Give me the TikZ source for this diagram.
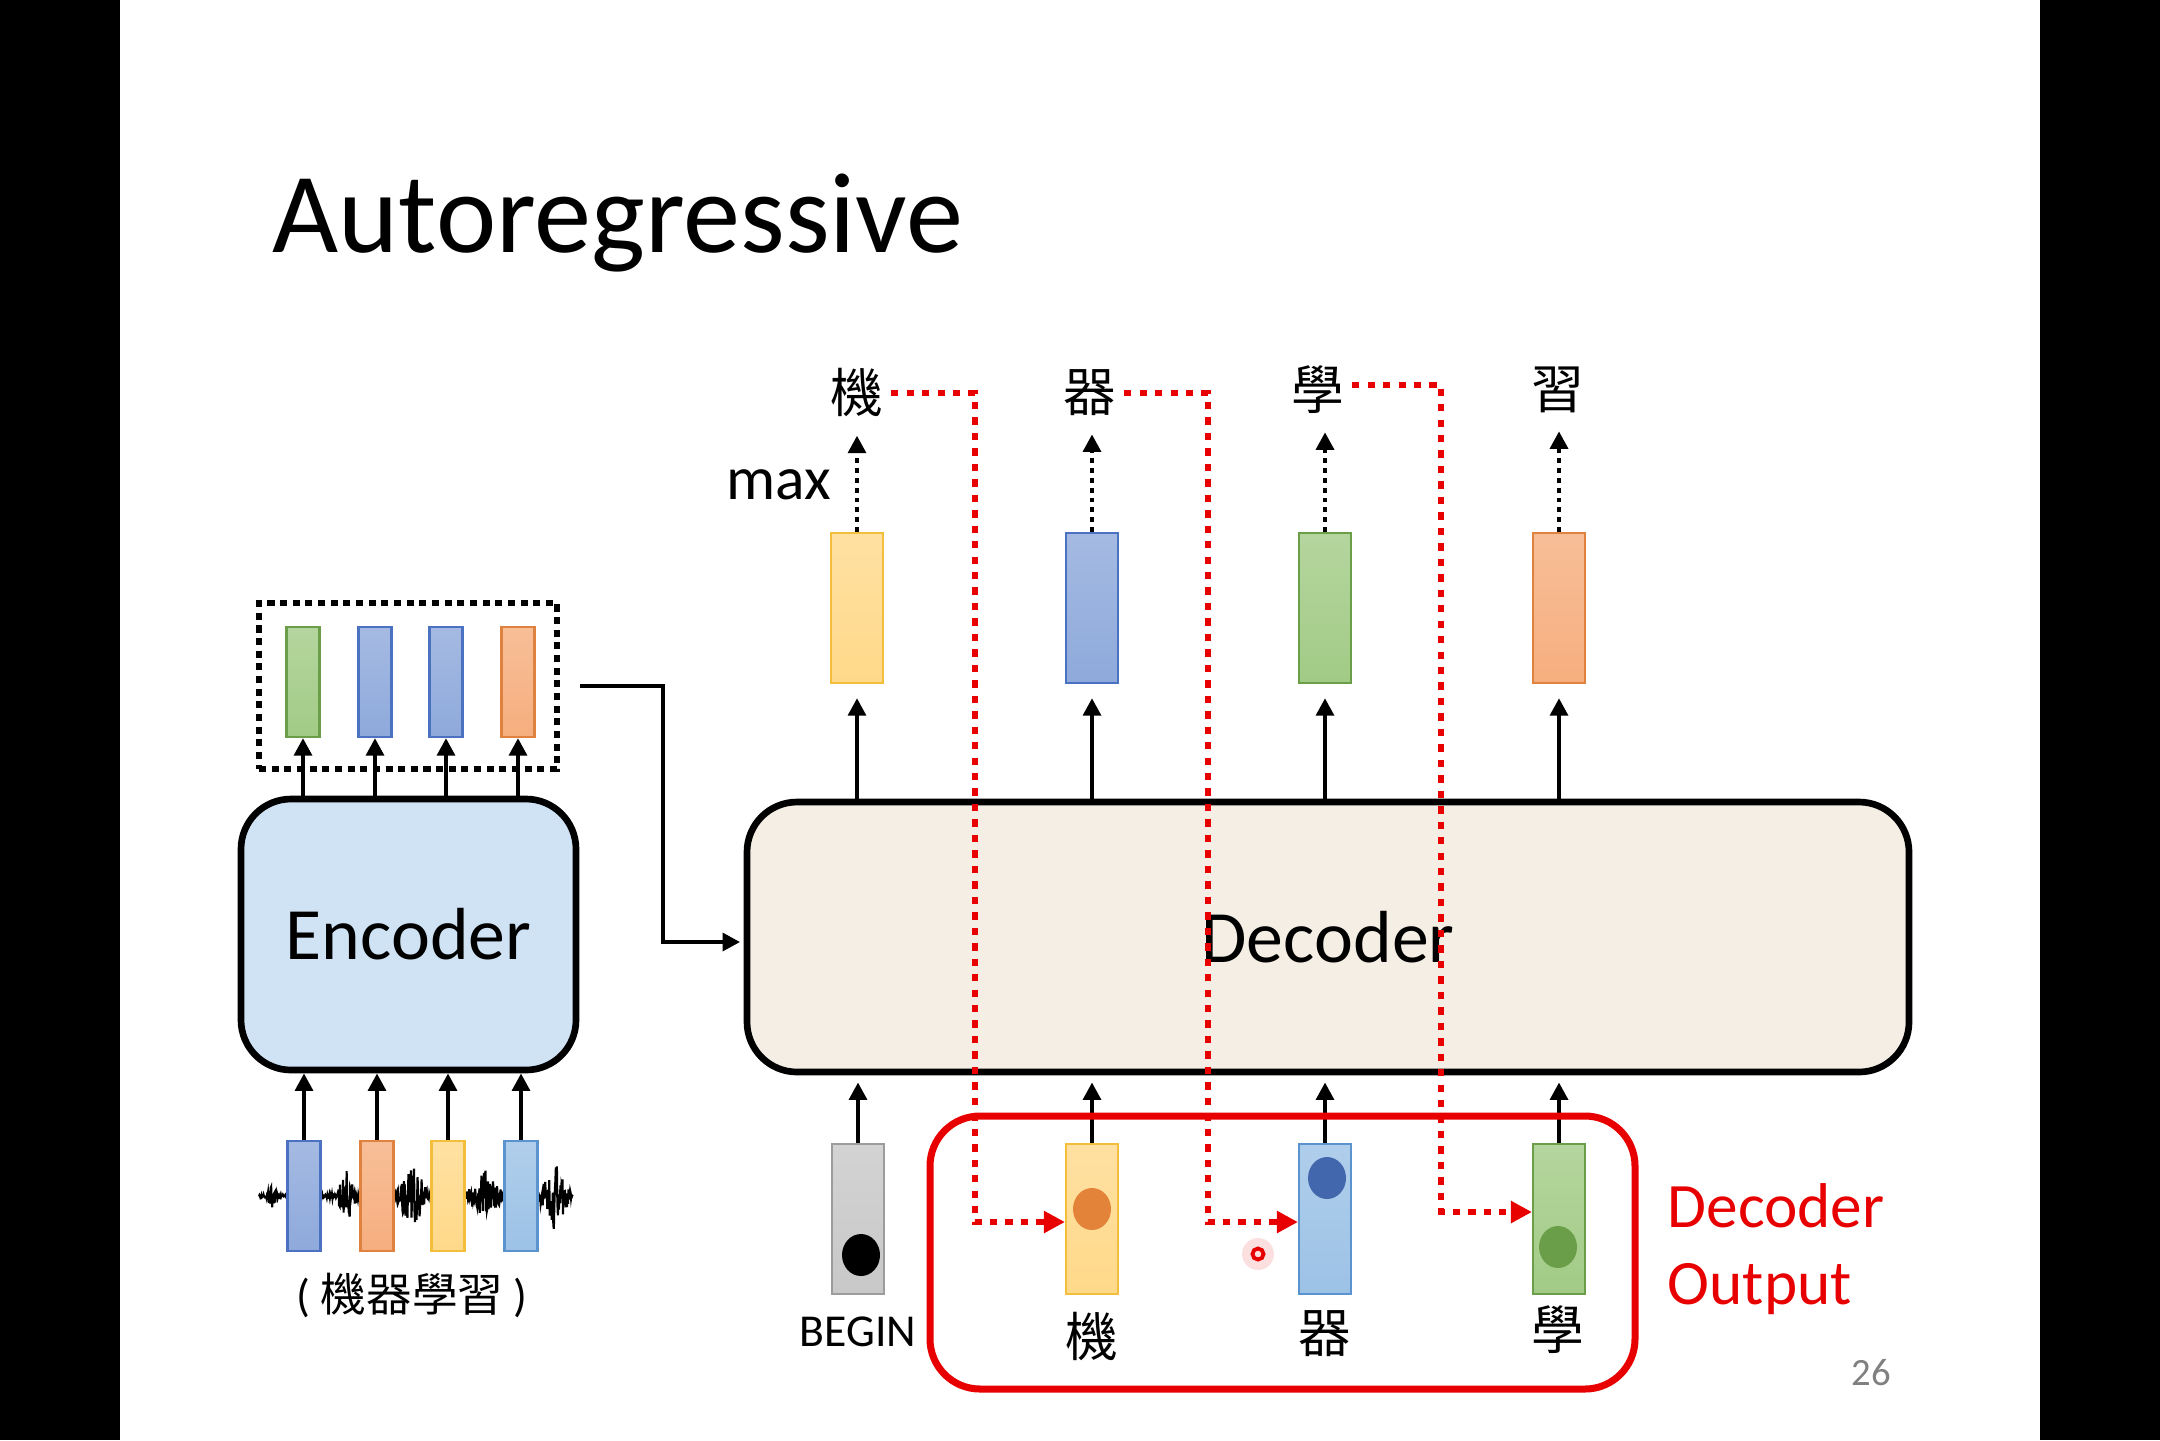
\documentclass[tikz,border=0pt]{standalone}
\usepackage{fontspec}
\setmainfont{Carlito}
\newfontfamily\cjk{Noto Sans CJK TC}
\usetikzlibrary{arrows.meta}

\definecolor{encfill}{HTML}{CFE3F5}
\definecolor{decfill}{HTML}{F4EEE4}
\definecolor{yelF}{HTML}{FFD98A}
\definecolor{yelD}{HTML}{F2BE3C}
\definecolor{bluF}{HTML}{8EA9DB}
\definecolor{bluD}{HTML}{4A72C0}
\definecolor{grnF}{HTML}{A2CB86}
\definecolor{grnD}{HTML}{6A9E48}
\definecolor{orgF}{HTML}{F6AE7E}
\definecolor{orgD}{HTML}{E0823F}
\definecolor{lblF}{HTML}{9CC2E6}
\definecolor{lblD}{HTML}{5B93CE}
\definecolor{gryF}{HTML}{C8C8C8}
\definecolor{gryD}{HTML}{9C9C9C}
\definecolor{laser}{HTML}{E80000}

\tikzset{
	arr/.style={line width=1.3pt, -{Triangle[length=5pt,width=5pt]}},
	dotarr/.style={arr, dash pattern=on 1.4pt off 1.4pt},
	redflow/.style={draw=laser, line width=1.8pt, dash pattern=on 2.1pt off 2.3pt, -{Triangle[length=6pt,width=6pt]}},
	block/.style={draw, line width=1.9pt, rounded corners=0.5cm, font=\fontsize{21pt}{25pt}\selectfont},
	vec/.style 2 args={draw=#1, top color=#2!80!white, bottom color=#2, line width=0.6pt, inner sep=0pt},
	bigvec/.style={minimum width=0.52cm, minimum height=1.5cm},
	smallvec/.style={minimum width=0.33cm, minimum height=1.1cm},
	word/.style={font=\cjk\fontsize{15pt}{18pt}\selectfont, inner sep=2pt}
}

\begin{document}
\begin{tikzpicture}[x=1cm, y=-1cm]
	% slide with black side bars
	\fill[black] (0,0) rectangle (21.6,14.4);
	\fill[white] (1.2,0) rectangle (20.4,14.4);
	\node[anchor=base west, inner sep=0pt, font=\fontsize{32.5pt}{38pt}\selectfont] (title) at (2.72,2.52) {Autoregressive};

	% speech input
	\pgfmathsetseed{7}
	\draw[line width=0.6pt] plot[domain=2.59:5.73, samples=620]
		(\x, {11.96 + (0.02 + 0.10*max(0,1-abs(\x-2.72)/0.06) + 0.24*max(0,1-abs(\x-3.47)/0.12)
		+ 0.32*max(0,1-abs(\x-4.12)/0.18) + 0.24*max(0,1-abs(\x-4.85)/0.2) + 0.34*max(0,1-abs(\x-5.55)/0.18))*rand});
	\node[vec={bluD}{bluF}, smallvec] (ei1) at (3.04,11.96) {};
	\node[vec={orgD}{orgF}, smallvec] (ei2) at (3.77,11.96) {};
	\node[vec={yelD}{yelF}, smallvec] (ei3) at (4.48,11.96) {};
	\node[vec={lblD}{lblF}, smallvec] (ei4) at (5.21,11.96) {};
	\node[font=\fontsize{13pt}{16pt}\selectfont] (src) at (4.12,12.95) {( {\cjk 機器學習} )};

	% encoder
	\node[block, fill=encfill, minimum width=3.35cm, minimum height=2.71cm] (enc) at (4.085,9.345) {Encoder};
	\draw[arr] (ei1.north) -- (ei1.north |- enc.south);
	\draw[arr] (ei2.north) -- (ei2.north |- enc.south);
	\draw[arr] (ei3.north) -- (ei3.north |- enc.south);
	\draw[arr] (ei4.north) -- (ei4.north |- enc.south);

	\node[vec={grnD}{grnF}, smallvec] (eo1) at (3.03,6.82) {};
	\node[vec={bluD}{bluF}, smallvec] (eo2) at (3.75,6.82) {};
	\node[vec={bluD}{bluF}, smallvec] (eo3) at (4.46,6.82) {};
	\node[vec={orgD}{orgF}, smallvec] (eo4) at (5.18,6.82) {};
	\node[draw, line width=1.8pt, dash pattern=on 2pt off 1.6pt, minimum width=2.98cm, minimum height=1.66cm] (encout) at (4.08,6.86) {};
	\draw[arr] (eo1 |- enc.north) -- (eo1.south);
	\draw[arr] (eo2 |- enc.north) -- (eo2.south);
	\draw[arr] (eo3 |- enc.north) -- (eo3.south);
	\draw[arr] (eo4 |- enc.north) -- (eo4.south);

	% decoder
	\node[block, fill=decfill, minimum width=11.62cm, minimum height=2.70cm] (dec) at (13.28,9.37) {Decoder};
	\coordinate (bend) at (6.63,9.42);
	\draw[arr, shorten >=1pt] ([xshift=0.2cm]encout.east) -| (bend) -- (bend -| dec.west);

	% decoder inputs
	\node[vec={gryD}{gryF}, bigvec] (b0) at (8.58,12.19) {};
	\node[vec={yelD}{yelF}, bigvec] (b1) at (10.92,12.19) {};
	\node[vec={lblD}{lblF}, bigvec] (b2) at (13.25,12.19) {};
	\node[vec={grnD}{grnF}, bigvec] (b3) at (15.59,12.19) {};
	\fill[black] (8.61,12.55) ellipse (0.19 and 0.21);
	\fill[orgD!90!orange] (10.92,12.09) ellipse (0.19 and 0.21);
	\fill[bluD!90!black] (13.27,11.78) ellipse (0.19 and 0.21);
	\fill[grnD] (15.58,12.47) ellipse (0.19 and 0.21);
	\node[font=\fontsize{13pt}{16pt}\selectfont] (begin) at (8.58,13.32) {BEGIN};
	\node[word] (i1) at (10.92,13.36) {機};
	\node[word] (i2) at (13.25,13.34) {器};
	\node[word] (i3) at (15.58,13.30) {學};
	\draw[arr, shorten >=2pt] (b0.north) -- (b0.north |- dec.south);
	\draw[arr, shorten >=2pt] (b1.north) -- (b1.north |- dec.south);
	\draw[arr, shorten >=2pt] (b2.north) -- (b2.north |- dec.south);
	\draw[arr, shorten >=2pt] (b3.north) -- (b3.north |- dec.south);

	% decoder outputs
	\node[vec={yelD}{yelF}, bigvec] (o1) at (8.57,6.08) {};
	\node[vec={bluD}{bluF}, bigvec] (o2) at (10.92,6.08) {};
	\node[vec={grnD}{grnF}, bigvec] (o3) at (13.25,6.08) {};
	\node[vec={orgD}{orgF}, bigvec] (o4) at (15.59,6.08) {};
	\draw[arr, shorten >=4pt] (o1 |- dec.north) -- (o1.south);
	\draw[arr, shorten >=4pt] (o2 |- dec.north) -- (o2.south);
	\draw[arr, shorten >=4pt] (o3 |- dec.north) -- (o3.south);
	\draw[arr, shorten >=4pt] (o4 |- dec.north) -- (o4.south);
	\node[word] (w1) at (8.57,3.93) {機};
	\node[word] (w2) at (10.90,3.93) {器};
	\node[word] (w3) at (13.18,3.90) {學};
	\node[word] (w4) at (15.58,3.90) {習};
	\draw[dotarr, shorten >=3pt] (o1.north) -- (o1.north |- w1.south);
	\draw[dotarr, shorten >=3pt] (o2.north) -- (o2.north |- w2.south);
	\draw[dotarr, shorten >=3pt] (o3.north) -- (o3.north |- w3.south);
	\draw[dotarr, shorten >=3pt] (o4.north) -- (o4.north |- w4.south);
	\node[anchor=base east, inner sep=0pt, font=\fontsize{17.5pt}{21pt}\selectfont] (max) at (8.32,4.99) {max};

	% output fed back as next input
	\node[draw=laser, line width=2pt, rounded corners=0.5cm, minimum width=7.05cm, minimum height=2.73cm] (outbox) at (12.825,12.525) {};
	\node[anchor=west, align=left, inner sep=0pt, text=laser, font=\fontsize{18pt}{22pt}\selectfont] (outlabel) at (16.67,12.49) {Decoder\\Output};
	\coordinate (c1) at (9.75,12.22);
	\coordinate (c2) at (12.08,12.22);
	\coordinate (c3) at (14.41,12.12);
	\draw[redflow] (w1.east) -| (c1) -- (c1 -| b1.west);
	\draw[redflow] (w2.east) -| (c2) -- (c2 -| b2.west);
	\draw[redflow] ([yshift=1.5pt]w3.east) -| (c3) -- (c3 -| b3.west);

	% pointer
	\fill[laser!12] (12.58,12.54) circle (0.16);
	\draw[laser, line width=1.1pt] (12.58,12.54) circle (0.055);

	\node[text=black!50, font=\fontsize{11pt}{13pt}\selectfont] (page) at (18.71,13.73) {26};
\end{tikzpicture}
\end{document}
